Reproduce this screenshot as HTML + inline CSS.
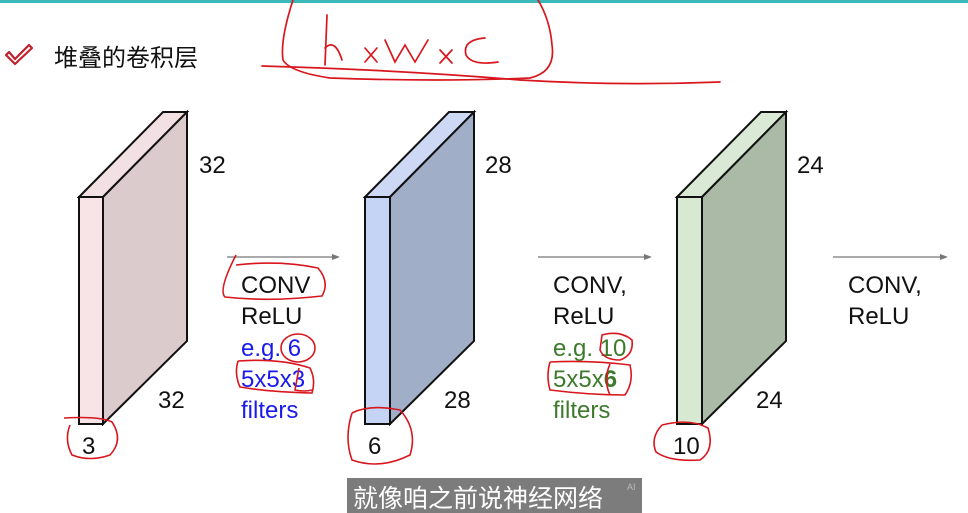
<!DOCTYPE html>
<html><head><meta charset="utf-8"><style>
html,body{margin:0;padding:0;background:#fff;width:968px;height:513px;overflow:hidden}
svg{display:block}
text{font-family:"Liberation Sans","Noto Sans CJK SC",sans-serif}
</style></head><body>
<svg width="968" height="513" viewBox="0 0 968 513" xmlns="http://www.w3.org/2000/svg">
<rect x="0" y="0" width="968" height="3" fill="#3bb8b8"/>
<path d="M9 52 L15 59 L29 45 L32 48 L15 64 L6 55 Z" fill="none" stroke="#c0212a" stroke-width="2.2" stroke-linejoin="round"/>
<text x="54" y="66" font-size="24" fill="#111" font-family="'Noto Sans CJK SC',sans-serif">堆叠的卷积层</text>
<g fill="none" stroke="#d8161d" stroke-width="1.7" stroke-linecap="round">
<path d="M293 0 Q280 40 283 60 Q290 72 330 78 Q440 82 530 78 Q556 72 552 45 Q550 20 538 0"/>
<path d="M262 66 Q400 70 520 80 Q620 86 720 82"/>
<path d="M327 15 L325 65 M325 48 Q335 38 342 60"/>
<path d="M365 48 L377 62 M377 48 L365 62"/>
<path d="M385 40 L395 62 L405 45 L415 62 L428 40"/>
<path d="M440 50 L452 63 M452 50 L440 63"/>
<path d="M485 38 Q462 40 466 55 Q472 66 498 62"/>
</g>
<g stroke="#111" stroke-width="2">
<polygon points="79,197 163,112 187,112 103,197" fill="#f3e0e2"/>
<polygon points="103,197 187,112 187,341 103,424" fill="#dccbcd"/>
<rect x="79" y="197" width="24" height="227" fill="#f8e4e6"/>
</g>
<g stroke="#111" stroke-width="2">
<polygon points="365,197 449,112 474,112 390,197" fill="#cdd8f4"/>
<polygon points="390,197 474,112 474,341 390,424" fill="#a1aec8"/>
<rect x="365" y="197" width="25" height="227" fill="#c5d3f5"/>
</g>
<g stroke="#111" stroke-width="2">
<polygon points="677,197 761,112 786,112 702,197" fill="#dae9d6"/>
<polygon points="702,197 786,112 786,341 702,424" fill="#aabaa7"/>
<rect x="677" y="197" width="25" height="227" fill="#d7e8d3"/>
</g>
<g font-size="24" fill="#111">
<text x="199" y="173">32</text><text x="158" y="408">32</text><text x="82" y="454">3</text>
<text x="485" y="173">28</text><text x="444" y="408">28</text><text x="368" y="454">6</text>
<text x="797" y="173">24</text><text x="756" y="408">24</text><text x="673" y="454">10</text>
</g>
<g stroke="#777" stroke-width="1.2">
<line x1="227" y1="257" x2="334" y2="257"/><line x1="538" y1="257" x2="647" y2="257"/><line x1="833" y1="257" x2="942" y2="257"/>
</g>
<g fill="#777"><path d="M340 257 L332 254 L332 260Z"/><path d="M652 257 L644 254 L644 260Z"/><path d="M948 257 L940 254 L940 260Z"/></g>
<g font-size="24" fill="#111">
<text x="241" y="293">CONV</text><text x="241" y="324">ReLU</text>
<text x="553" y="293">CONV,</text><text x="553" y="324">ReLU</text>
<text x="848" y="293">CONV,</text><text x="848" y="324">ReLU</text>
</g>
<g font-size="24" fill="#1a1aee">
<text x="241" y="356">e.g. 6</text><text x="241" y="387">5x5x3</text><text x="241" y="418">filters</text>
</g>
<g font-size="24" fill="#3d7a2c">
<text x="553" y="356">e.g. 10</text><text x="553" y="387">5x5x<tspan font-weight="bold">6</tspan></text><text x="553" y="418">filters</text>
</g>
<g fill="none" stroke="#d8161d" stroke-width="1.6">
<path d="M236 255 Q218 290 225 297 Q270 302 322 296 Q330 282 318 268 Q280 260 236 265"/>
<ellipse cx="298" cy="348" rx="17" ry="14"/>
<path d="M238 361 Q280 358 310 368 Q316 380 312 393 Q270 392 240 387 Q234 374 238 361"/>
<path d="M299 368 L295 390 Q305 392 312 390"/>
<path d="M64 418 Q100 416 112 422 Q124 440 110 455 Q90 462 72 455 Q64 440 70 425"/>
<path d="M352 413 Q370 404 400 410 Q418 430 410 455 Q380 470 352 460 Q344 438 352 413"/>
<path d="M602 335 Q620 330 632 340 Q634 355 620 360 Q604 360 600 350 Z"/>
<path d="M550 362 Q590 360 630 365 Q634 382 625 395 Q590 395 550 390 Q546 376 550 362"/>
<path d="M610 364 Q603 380 610 395"/>
<path d="M662 425 Q690 418 708 428 Q715 450 700 460 Q670 462 656 452 Q650 438 662 425"/>
</g>
<rect x="347" y="478" width="295" height="35" fill="#7c7c7c"/>
<text x="353" y="507" font-size="25" fill="#fff" font-family="'Noto Sans CJK SC',sans-serif">就像咱之前说神经网络</text>
<text x="627" y="490" font-size="9" fill="#bbb">AI</text>
</svg>
</body></html>
